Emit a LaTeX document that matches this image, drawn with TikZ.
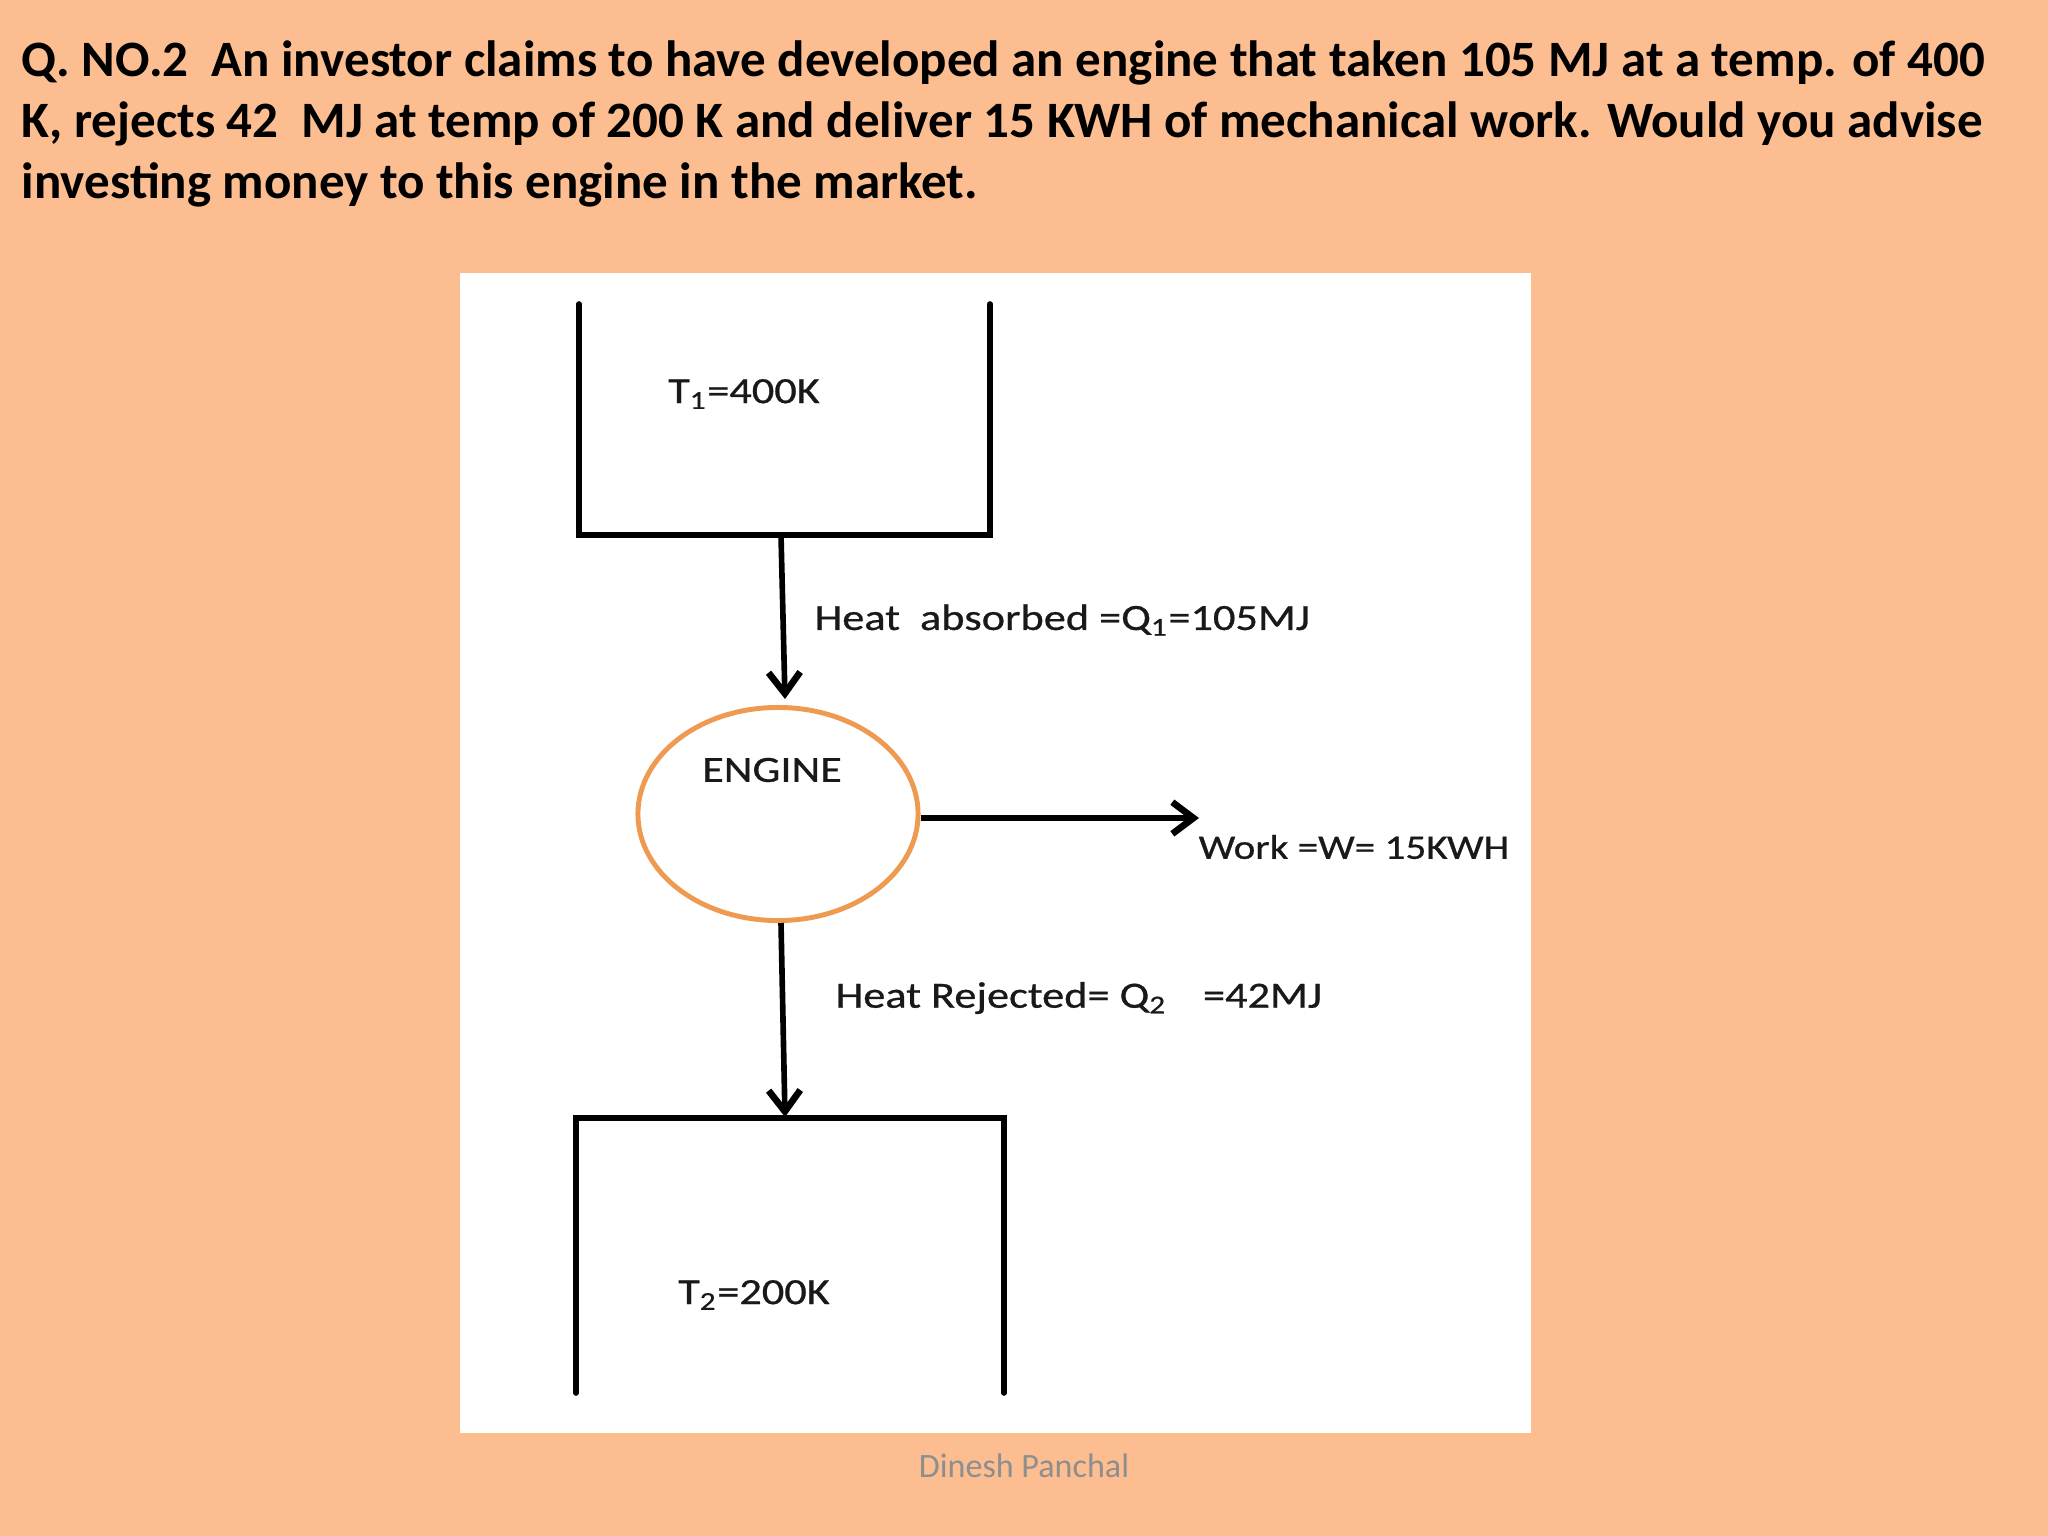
\documentclass[tikz,border=0pt]{standalone}
\usepackage{xcolor}
\usepackage{fontspec}
\setmainfont{Carlito}
\newfontfamily\labelfont[FakeStretch=1.2,FakeBold=0.7]{Carlito}
\usetikzlibrary{shapes.geometric,arrows.meta}
\definecolor{slidebg}{HTML}{FCBE90}
\definecolor{engineline}{HTML}{EE9A50}
\definecolor{footgray}{HTML}{8E8E8E}
\tikzset{
  wall/.style={line width=1.6pt,black,line cap=round},
  flow/.style={line width=1.6pt,black,-{Straight Barb[length=6pt,width=9pt,line width=1.9pt]}},
  tag/.style={font=\labelfont\fontsize{10.5}{12}\selectfont,text=black!90,inner sep=0pt},
}

\begin{document}
\begin{tikzpicture}[x=0.01cm,y=-0.01cm]
\useasboundingbox (0,0) rectangle (2048,1536);
\fill [slidebg] (0,0) rectangle (2048,1536);
\fill [white] (460,273) rectangle (1531,1433);
\node [anchor=north west,align=left,inner sep=0pt,font=\bfseries\fontsize{14.5}{17.4}\selectfont] at (21,40) (question) {Q. NO.2\ \ An investor claims to have developed an engine that taken 105 MJ at a temp. of 400\\K, rejects 42\ \ MJ at temp of 200 K and deliver 15 KWH of mechanical work. Would you advise\\investing money to this engine in the market.};
% hot tank
\coordinate (hottl) at (579,304);
\coordinate (hotbl) at (579,535);
\coordinate (hotbr) at (990,535);
\coordinate (hottr) at (990,304);
\coordinate (hotout) at (781,535);
\draw [wall] (hottl) -- (hotbl) -- (hotbr) -- (hottr);
\node [tag] at (744,394) (hotlabel) {T\textsubscript{1}=400K};
% engine
\node [ellipse,draw=engineline,line width=1.4pt,minimum width=2.8cm,minimum height=2.13cm,inner sep=0pt] at (778,814) (engine) {};
\node [tag] at (772,770) (enginelabel) {ENGINE};
\coordinate (enginein) at (785,699);
\coordinate (engineout) at (781,923);
\coordinate (workend) at (1199,818);
\coordinate (coldin) at (785,1117);
\draw [flow] (hotout) -- (enginein);
\draw [flow] (engine.east |- workend) -- (workend);
\draw [flow] (engineout) -- (coldin);
\node [tag,anchor=west] at (814,620) (heatin) {Heat\ \ absorbed =Q\textsubscript{1}=105MJ};
\node [tag,anchor=west,font=\labelfont\fontsize{9.75}{12}\selectfont] at (1198,847) (work) {Work =W= 15KWH};
\node [tag,anchor=west] at (835,998) (heatout) {Heat Rejected= Q\textsubscript{2}\ \ \ \,=42MJ};
% cold tank
\coordinate (coldbl) at (576,1393);
\coordinate (coldtl) at (576,1118);
\coordinate (coldtr) at (1004,1118);
\coordinate (coldbr) at (1004,1393);
\draw [wall] (coldbl) -- (coldtl) -- (coldtr) -- (coldbr);
\node [tag] at (754,1295) (coldlabel) {T\textsubscript{2}=200K};
\node [text=footgray,inner sep=0pt,font=\fontsize{9.7}{11}\selectfont] at (1024,1466) (footer) {Dinesh Panchal};
\end{tikzpicture}
\end{document}
